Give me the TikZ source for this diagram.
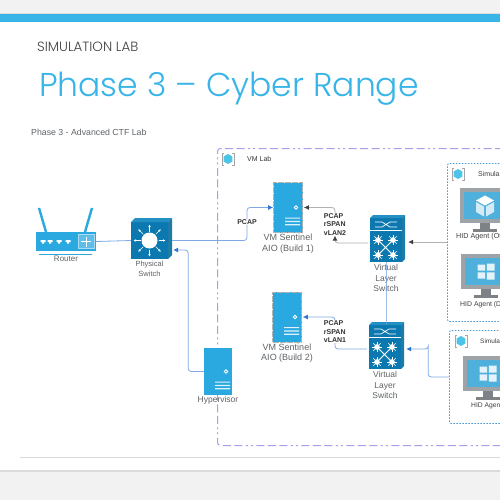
\documentclass[tikz,border=0pt]{standalone}
\usepackage{fontspec}
\setmainfont{Liberation Sans}
\newfontfamily\headfont{Poppins}[UprightFont=* Light]
\usepackage{xcolor}
\usetikzlibrary{arrows.meta,positioning}
\definecolor{band}{HTML}{38B5E8}
\definecolor{iconblue}{HTML}{29A9E0}
\definecolor{swfront}{HTML}{0B78B0}
\definecolor{swside}{HTML}{2390C4}
\definecolor{wireblue}{HTML}{2F74D0}
\definecolor{wirepale}{HTML}{7FA9E2}
\definecolor{labline}{HTML}{A99FE8}
\definecolor{simline}{HTML}{4A9AD8}
\definecolor{screen}{HTML}{4FB0DC}
\definecolor{bezel}{HTML}{9EA3A7}
\definecolor{lblgray}{HTML}{5F6468}
\definecolor{cubecyan}{HTML}{4CC4E8}
\begin{document}
\begin{tikzpicture}[
x=1pt,y=-1pt,
lbl/.style={align=center,inner sep=0pt,text=lblgray,font=\fontsize{7.5}{10}\selectfont},
vmlbl/.style={align=center,inner sep=0pt,text=lblgray,font=\fontsize{9}{10.5}\selectfont},
taglbl/.style={align=left,inner sep=0pt,fill=white,text=black!80,font=\bfseries\fontsize{7}{8.5}\selectfont},
cutlbl/.style={anchor=west,inner sep=0pt,text=black!75,font=\fontsize{6.9}{9}\selectfont},
serverbox/.style={fill=iconblue,minimum width=28pt,minimum height=47pt,inner sep=0pt},
vmbox/.style={serverbox,draw=gray!60,dash pattern=on 6pt off 1pt,line width=.8pt,minimum width=29pt,minimum height=50pt},
swbox/.style={fill=swfront,inner sep=0pt},
screenbox/.style={fill=screen,draw=bezel,line width=3.5pt,minimum width=46pt,minimum height=31pt,inner sep=0pt},
labbox/.style={draw=labline,line width=1pt,rounded corners=3pt,anchor=north west,dash pattern=on 8pt off 3.5pt on 8pt off 3.5pt on 8pt off 3.5pt on 2pt off 3pt on 2pt off 3.5pt},
simbox/.style={draw=simline,line width=.9pt,rounded corners=2pt,anchor=north west,dash pattern=on 1.6pt off 1.4pt},
wire/.style={draw=wirepale,line width=.8pt,rounded corners=3pt},
arr/.style={wire,-{Latex[length=5pt,width=5pt,color=wireblue]}},
darr/.style={draw=gray!60,line width=.8pt,rounded corners=3pt,-{Latex[length=5pt,width=5pt,color=black!75]}},
serverpic/.pic={
  \draw[white,line width=.8pt] (8,0) circle[radius=1.8pt];
  \fill[white!85!iconblue] (-3,10) rectangle (12,11.2) (-3,13.3) rectangle (12,14.5) (-3,16.6) rectangle (12,17.8);
},
routerpic/.pic={
  \draw[iconblue,line width=2.4pt] (-27,-33.5) -- (-20,-9.5) (26,-33.5) -- (19,-9.5);
  \draw[iconblue,line width=.9pt] (-27,12.5) -- (26,12.5);
  \foreach \portx in {-23,-16,-7,2}
    \fill[white] (\portx-2.5,-1.5) rectangle (\portx+2.5,.5) (\portx-1,.5) rectangle (\portx+1,2);
  \draw[white!60!iconblue,fill=white!25!iconblue,line width=.7pt] (12,-7) rectangle (28,7);
  \draw[white,line width=.8pt] (20,-5) -- (20,5) (15,0) -- (25,0);
},
corepic/.pic={
  \fill[swside] (-18.5,-18.5) -- (-14.5,-22.5) -- (22.5,-22.5) -- (18.5,-18.5) -- cycle;
  \fill[swside!85!black] (18.5,-18.5) -- (22.5,-22.5) -- (22.5,14.5) -- (18.5,18.5) -- cycle;
  \fill[white] (0,0) circle[radius=8pt];
  \foreach \ang in {0,45,...,315}
    \draw[white,line width=.7pt,-{Latex[length=2.5pt,width=2.5pt]}] (\ang:9pt) -- (\ang:16pt);
},
vswpic/.pic={
  \fill[swside] (-16,-22) -- (-13,-25) -- (19,-25) -- (16,-22) -- cycle;
  \fill[swside!85!black] (16,-22) -- (19,-25) -- (19,19) -- (16,22) -- cycle;
  \draw[white,line width=.7pt] (-16,-10) -- (16,-10);
  \draw[white,line width=.7pt] (-11,-18) -- (-4,-18) -- (4,-13) -- (11,-13) (-11,-13) -- (-4,-13) -- (4,-18) -- (11,-18);
  \draw[white,line width=1pt] (-8,0) -- (7,15) (7,0) -- (-8,15);
  \foreach \px/\py in {-8/0,7/0,-8/15,7/15}{
    \fill[white] (\px,\py) circle[radius=2.8pt];
    \foreach \ang in {0,45,...,315}
      \draw[white,line width=.5pt] ([shift={(\px,\py)}]\ang:2pt) -- ([shift={(\px,\py)}]\ang:5.2pt);
  }
},
standpic/.pic={
  \fill[bezel!80!black] (-5,0) rectangle (5,6);
  \fill[bezel!80!black] (-12,6) rectangle (12,9);
},
winpic/.pic={
  \fill[white!85!screen] (-8.5,-7) rectangle (-.8,-.8) (.8,-8) rectangle (8.5,-.8) (-8.5,.8) rectangle (-.8,7) (.8,.8) rectangle (8.5,8);
},
cubepic/.pic={
  \fill[white] (0,-10) -- (9,-5) -- (0,0) -- (-9,-5) -- cycle;
  \fill[white!75!screen] (-9,-3.5) -- (-1,1) -- (-1,11) -- (-9,6.5) -- cycle (9,-3.5) -- (1,1) -- (1,11) -- (9,6.5) -- cycle;
},
hexpic/.pic={
  \draw[gray!70,line width=.8pt] (-4,-6) -- (-6,-6) -- (-6,6) -- (-4,6) (4,-6) -- (6,-6) -- (6,6) -- (4,6);
  \fill[cubecyan] (0,-5) -- (4.3,-2.5) -- (4.3,2.5) -- (0,5) -- (-4.3,2.5) -- (-4.3,-2.5) -- cycle;
}
]
\clip[use as bounding box] (0,0) rectangle (500,500);
\fill[black!5] (0,0) rectangle (500,500);
\fill[black!14] (0,13) rectangle (500,472);
\fill[white] (0,14) rectangle (500,470);
\fill[band] (0,14) rectangle (500,22.5);
\draw[black!15,line width=.7pt] (20,457) -- (500,457);
\node[anchor=base west,inner sep=0pt,text=black!75,font=\headfont\fontsize{13.4}{14}\selectfont] (section) at (37,52) {SIMULATION LAB};
\node[anchor=base west,inner sep=0pt,text=band,font=\headfont\fontsize{33}{36}\selectfont] (title) at (39,96) {Phase 3 – Cyber Range};
\node[anchor=west,inner sep=0pt,text=lblgray,font=\fontsize{8.75}{10}\selectfont] (subtitle) at (31,132) {Phase 3 - Advanced CTF Lab};

\node[labbox,minimum width=300pt,minimum height=297pt] (lab) at (217,148) {};
\pic at (228,159) {hexpic};
\node[cutlbl,text=black!80,font=\fontsize{7}{9}\selectfont] (lablbl) at (247,159) {VM Lab};
\node[simbox,minimum width=60pt,minimum height=158pt] (sim1) at (447,163) {};
\node[simbox,minimum width=60pt,minimum height=93pt] (sim2) at (449,330) {};
\pic at (458,174) {hexpic};
\pic at (461,341) {hexpic};
\node[cutlbl,font=\fontsize{7}{9}\selectfont] (sim1lbl) at (478,174) {Simula};
\node[cutlbl,font=\fontsize{6.5}{9}\selectfont] (sim2lbl) at (480,341) {Simula};

\node[fill=iconblue,minimum width=60pt,minimum height=19pt,inner sep=0pt] (router) at (66,241.5) {};
\pic at (router) {routerpic};
\node[lbl,font=\fontsize{8}{10}\selectfont] (routerlbl) at (66,259) {Router};
\node[swbox,minimum width=37pt,minimum height=37pt] (psw) at (149.5,240.5) {};
\pic at (psw) {corepic};
\node[lbl,below=1.5pt of psw] (pswlbl) {Physical\\Switch};
\node[serverbox] (hyper) at (218,371.5) {};
\pic at (hyper) {serverpic};
\node[lbl,font=\fontsize{8.5}{10}\selectfont] (hyperlbl) at (218,400) {Hypervisor};
\node[vmbox] (build1) at (288,207.5) {};
\pic at (build1) {serverpic};
\node[vmlbl,below=1pt of build1] (build1lbl) {VM Sentinel\\AIO (Build 1)};
\node[vmbox] (build2) at (287,317) {};
\pic at (build2) {serverpic};
\node[vmlbl,below=1pt of build2] (build2lbl) {VM Sentinel\\AIO (Build 2)};
\node[swbox,minimum width=32pt,minimum height=44pt] (vsw1) at (386,240) {};
\pic at (vsw1) {vswpic};
\node[lbl,font=\fontsize{8.5}{10.5}\selectfont,below=2pt of vsw1] (vsw1lbl) {Virtual\\Layer\\Switch};
\node[swbox,minimum width=32pt,minimum height=44pt] (vsw2) at (385,347) {};
\pic at (vsw2) {vswpic};
\node[lbl,font=\fontsize{8.5}{10.5}\selectfont,below=2pt of vsw2] (vsw2lbl) {Virtual\\Layer\\Switch};

\node[screenbox] (mon1) at (485,205.5) {};
\pic at (485,223) {standpic};
\pic at (mon1) {cubepic};
\node[cutlbl,font=\fontsize{7.2}{9}\selectfont] (mon1lbl) at (456,237) {HID Agent (Ot};
\node[screenbox] (mon2) at (486,271.5) {};
\pic at (486,289) {standpic};
\pic at (mon2) {winpic};
\node[cutlbl] (mon2lbl) at (460,305) {HID Agent (D};
\node[screenbox] (mon3) at (488,373.5) {};
\pic at (488,391) {standpic};
\pic at (mon3) {winpic};
\node[cutlbl,font=\fontsize{6.7}{9}\selectfont] (mon3lbl) at (471,406) {HID Agen};

\node[taglbl] (pcapa) at (247,222) {PCAP};
\node[taglbl] (tag2) at (335,224.5) {PCAP\\rSPAN\\vLAN2};
\node[taglbl] (tag1) at (335,332) {PCAP\\rSPAN\\vLAN1};

\draw[wire] (router.east) -- (psw.west);
\draw[wire] ([xshift=4pt]psw.east) -| (pcapa.south);
\draw[arr] (pcapa.north) |- (build1.west);
\draw[arr] (hyper.west) -| ([xshift=20pt,yshift=-9.5pt]psw.east) -- ([xshift=5pt,yshift=-9.5pt]psw.east);
\draw[darr] ([xshift=-2pt,yshift=-3pt]vsw1.west) -| (tag2.south);
\draw[darr] (tag2.north) |- ([xshift=1pt]build1.east);
\draw[darr] (sim1.west |- vsw1.east) ++(0,2) -- ([xshift=6pt,yshift=-2pt]vsw1.east);
\draw[wire] ([xshift=-2pt,yshift=-2pt]vsw2.west) -| (tag1.south);
\draw[arr] (tag1.north) |- ([xshift=1pt]build2.east);
\draw[arr] (sim2.west) -| ([xshift=27pt]vsw2.east) |- ([xshift=5pt,yshift=-2pt]vsw2.east);
\draw[draw=wireblue!70,line width=.9pt] (vsw1.south) -- (vsw1.south |- vsw2.north) -- ++(0,-3);
\end{tikzpicture}
\end{document}
